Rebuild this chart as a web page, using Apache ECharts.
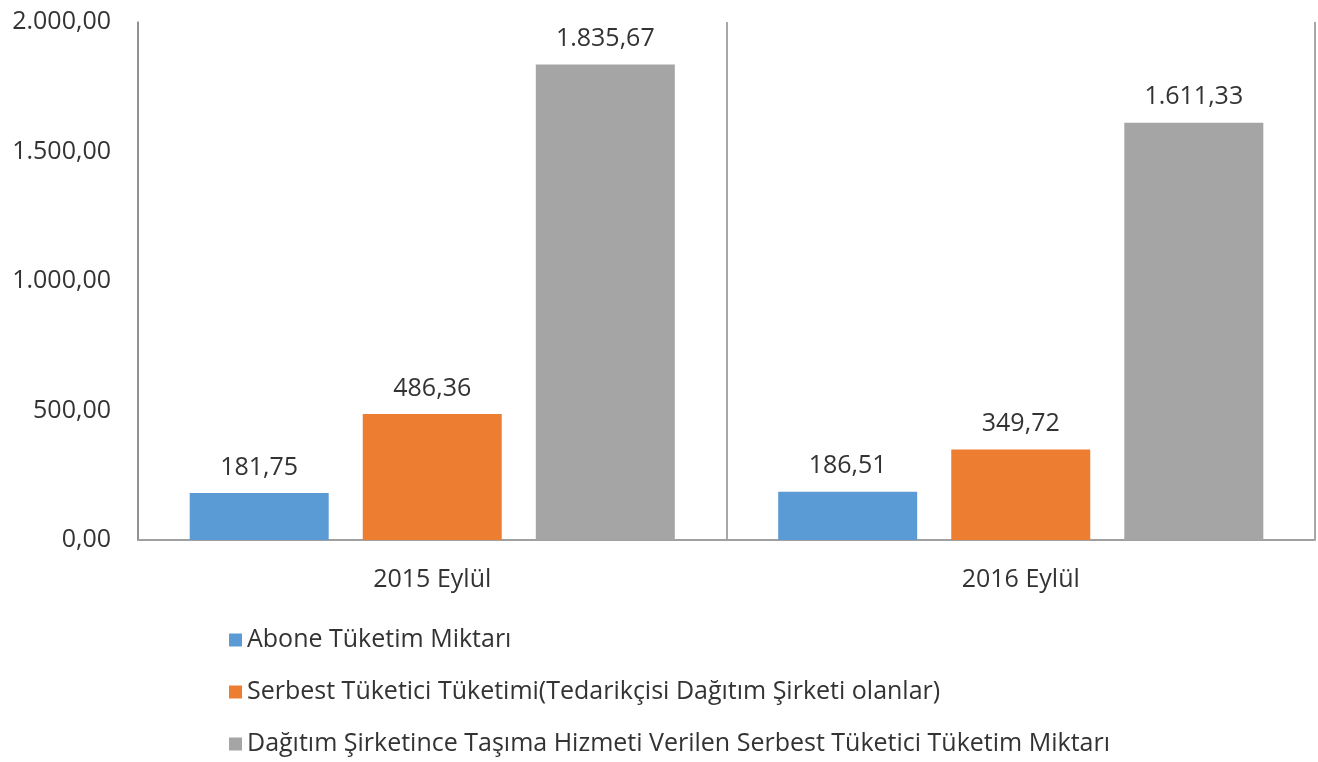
<!DOCTYPE html>
<html>
<head>
<meta charset="utf-8">
<script src="https://cdn.jsdelivr.net/npm/echarts@6/dist/echarts.min.js"></script>
<style>
html,body{margin:0;padding:0;background:#fff;}
#box{width:1318px;height:762px;}
</style>
</head>
<body>
<div id="box"></div>
<script>
var categories = ['2015 Eylül', '2016 Eylül'];
var seriesNames = [
	'Abone Tüketim Miktarı',
	'Serbest Tüketici Tüketimi(Tedarikçisi Dağıtım Şirketi olanlar)',
	'Dağıtım Şirketince Taşıma Hizmeti Verilen Serbest Tüketici Tüketim Miktarı'
];
var abone = [181.75, 186.51];
var serbest = [486.36, 349.72];
var dagitim = [1835.67, 1611.33];
var colors = ['#5B9BD5', '#ED7D31', '#A5A5A5'];

// turkish number format 1.835,67
function trFmt(v, dec){
	var s = Number(v).toFixed(dec);
	var parts = s.split('.');
	var intPart = parts[0].replace(/\B(?=(\d{3})+(?!\d))/g, '.');
	return parts.length > 1 ? intPart + ',' + parts[1] : intPart;
}

var font = 'Open Sans';
var txt = '#333333';
var allData = [abone, serbest, dagitim];
var series = [];
for(var i = 0; i < allData.length; i++){
	series.push({
		name: seriesNames[i],
		type: 'bar',
		data: allData[i],
		barWidth: 139,
		barGap: '24.5%',
		itemStyle: {color: colors[i]},
		label: {
			show: true,
			position: 'top',
			distance: 13,
			color: txt,
			fontFamily: font,
			fontSize: 25,
			formatter: function(p){ return trFmt(p.value, 2); }
		}
	});
}

var myChart = echarts.init(document.getElementById('box'));
var option = {
	animation: false,
	textStyle: {fontFamily: font},
	grid: {left: 138, right: 3, top: 22, bottom: 222, containLabel: false},
	legend: {
		orient: 'vertical',
		left: 229,
		top: 627,
		padding: 0,
		itemWidth: 13,
		itemHeight: 13,
		itemGap: 26,
		icon: 'rect',
		textStyle: {color: txt, fontSize: 25, lineHeight: 26, fontFamily: font},
		data: seriesNames
	},
	xAxis: {
		type: 'category',
		data: categories,
		axisLine: {lineStyle: {color: '#a0a0a0', width: 2}},
		axisTick: {show: false},
		splitLine: {show: true, interval: 0, lineStyle: {color: '#8a8a8a', width: 1.5}},
		axisLabel: {color: txt, fontSize: 25, margin: 27, fontFamily: font}
	},
	yAxis: {
		type: 'value',
		min: 0,
		max: 2000,
		interval: 500,
		axisLine: {show: true, lineStyle: {color: '#8a8a8a', width: 1.5}},
		axisTick: {show: false},
		splitLine: {show: false},
		axisLabel: {
			color: txt,
			fontSize: 25,
			margin: 27,
			fontFamily: font,
			formatter: function(v){ return trFmt(v, 2); }
		}
	},
	series: series
};
myChart.setOption(option, true);
</script>
</body>
</html>
